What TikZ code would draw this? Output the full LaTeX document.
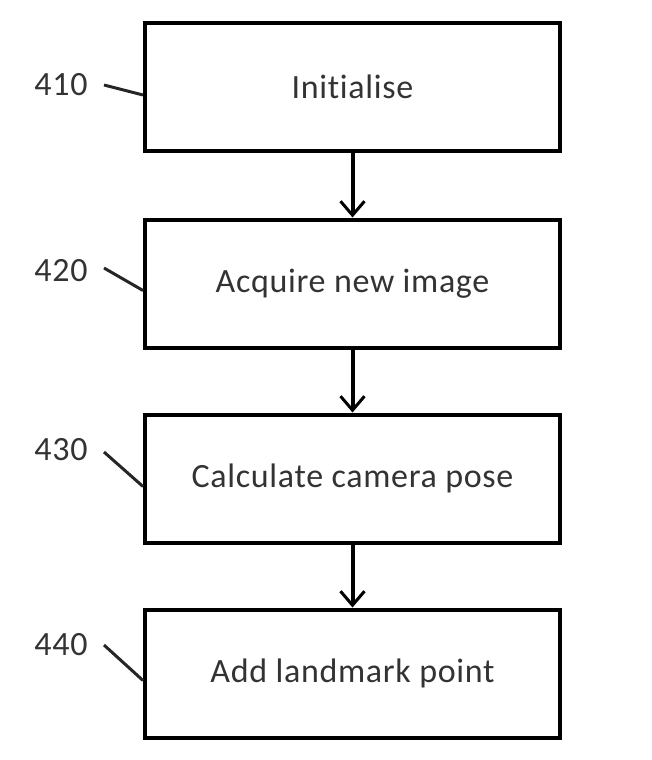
\documentclass[tikz,border=0pt]{standalone}
\usepackage{fontspec}
\setmainfont[Ligatures=NoCommon,LetterSpace=2]{Carlito}
\usetikzlibrary{arrows.meta}
\begin{document}
\begin{tikzpicture}[x=1pt,y=-1pt,
  stepbox/.style={draw=black,line width=4pt,minimum width=415pt,minimum height=128pt,inner sep=0pt,font=\fontsize{34}{40}\selectfont,text=black!80},
  reflabel/.style={font=\fontsize{34}{40}\selectfont,text=black!80,inner sep=0pt},
  leader/.style={line width=3pt,black!85},
  flow/.style={line width=4pt,-{Straight Barb[length=14pt,width=24pt,line width=3pt]}}]
\useasboundingbox (0,0) rectangle (652,760);
\node[stepbox] (b1) at (352.5,87) {Initialise};
\node[stepbox] (b2) at (352.5,283.5) {Acquire new image};
\node[stepbox] (b3) at (352.5,478.5) {Calculate camera pose};
\node[stepbox] (b4) at (352.5,673.5) {Add landmark point};
\node[reflabel] (l1) at (61,85) {410};
\node[reflabel] (l2) at (61,271) {420};
\node[reflabel] (l3) at (61,450) {430};
\node[reflabel] (l4) at (61,645) {440};
\coordinate (s1) at (104,85);
\coordinate (s2) at (104,268);
\coordinate (s3) at (104,452);
\coordinate (s4) at (104,645);
\draw[leader] (s1) -- ([yshift=-8pt]b1.west);
\draw[leader] (s2) -- ([yshift=-7pt]b2.west);
\draw[leader] (s3) -- ([yshift=-8pt]b3.west);
\draw[leader] (s4) -- ([yshift=-7pt]b4.west);
\draw[flow] (b1) -- (b2);
\draw[flow] (b2) -- (b3);
\draw[flow] (b3) -- (b4);
\end{tikzpicture}
\end{document}
